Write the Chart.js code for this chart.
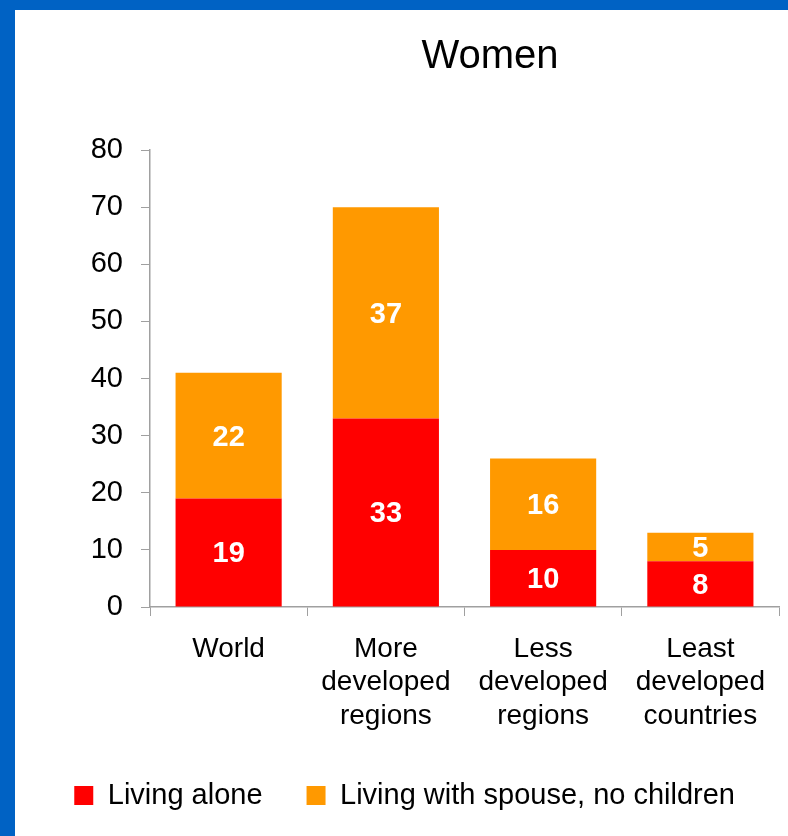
<!DOCTYPE html>
<html>
<head>
<meta charset="utf-8">
<script src="https://cdn.jsdelivr.net/npm/chart.js@4.4.1/dist/chart.umd.min.js"></script>
<style>
  html, body { margin: 0; padding: 0; }
  body { width: 788px; height: 836px; background: #0062c4; position: relative; overflow: hidden; }
  #panel { position: absolute; left: 15px; top: 10px; right: 0; bottom: 0; background: #ffffff; }
  #wrap { position: absolute; left: 0; top: 0; width: 788px; height: 836px; }
</style>
</head>
<body>
<div id="panel"></div>
<div id="wrap"><canvas id="graphCanvas"></canvas></div>
<script>
const categories = [["World"], ["More", "developed", "regions"], ["Less", "developed", "regions"], ["Least", "developed", "countries"]];
const livingAlone = [19, 33, 10, 8];
const withSpouse = [22, 37, 16, 5];
const y_ticks = [0, 10, 20, 30, 40, 50, 60, 70, 80];

const fontFamily = "'Liberation Sans', Arial, sans-serif";

// title drawn at its own spot, the slide centers it right of the axis
const titlePlugin = {
    id: "slideTitle",
    afterDraw(chart) {
        const c = chart.ctx;
        c.save();
        c.font = "40px " + fontFamily;
        c.fillStyle = "#000";
        c.textAlign = "center";
        c.textBaseline = "middle";
        c.fillText("Women", 490, 57);
        c.restore();
    }
};

// white numbers in the middle of each segment
const valueLabels = {
    id: "valueLabels",
    afterDatasetsDraw(chart) {
        const c = chart.ctx;
        c.save();
        c.font = "bold 29px " + fontFamily;
        c.fillStyle = "#fff";
        c.textAlign = "center";
        c.textBaseline = "middle";
        chart.data.datasets.forEach((ds, i) => {
            const meta = chart.getDatasetMeta(i);
            meta.data.forEach((bar, j) => {
                const yMid = (bar.y + bar.base) / 2;
                c.fillText(String(ds.data[j]), bar.x, yMid + 2);
            });
        });
        c.restore();
    }
};

const ctx = document.getElementById("graphCanvas").getContext("2d");

const chart = new Chart(ctx, {
    type: "bar",
    data: {
        labels: categories,
        datasets: [{
            label: "Living alone",
            data: livingAlone,
            backgroundColor: "#ff0000",
            barPercentage: 0.675,
            categoryPercentage: 1.0,
        }, {
            label: "Living with spouse, no children",
            data: withSpouse,
            backgroundColor: "#ff9900",
            barPercentage: 0.675,
            categoryPercentage: 1.0,
        }]
    },
    options: {
        responsive: true,
        maintainAspectRatio: false,
        animation: false,
        layout: {
            padding: { left: 10, right: 9, top: 150, bottom: 16 }
        },
        scales: {
            x: {
                stacked: true,
                grid: {
                    offset: true,
                    drawOnChartArea: false,
                    drawTicks: true,
                    tickLength: 9,
                    color: "#a0a0a0",
                },
                border: { display: true, color: "#a0a0a0", width: 1.5 },
                ticks: {
                    color: "#000",
                    padding: 16,
                    maxRotation: 0,
                    font: { family: fontFamily, size: 28, lineHeight: 1.2 },
                },
                afterFit: (scale) => { scale.height = 130; },
            },
            y: {
                stacked: true,
                min: 0,
                max: 80,
                afterBuildTicks: (scale) => { scale.ticks = y_ticks.map(v => ({ value: v })); },
                grid: {
                    drawOnChartArea: false,
                    drawTicks: true,
                    tickLength: 9,
                    color: "#a0a0a0",
                },
                border: { display: true, color: "#a0a0a0", width: 1.5 },
                ticks: {
                    color: "#000",
                    padding: 18,
                    font: { family: fontFamily, size: 29 },
                },
                afterFit: (scale) => { scale.width = 140; },
            },
        },
        plugins: {
            legend: {
                position: "bottom",
                align: "end",
                labels: {
                    color: "#000",
                    boxWidth: 19,
                    boxHeight: 19,
                    padding: 44,
                    font: { family: fontFamily, size: 29 },
                },
            },
            tooltip: { enabled: false },
        },
    },
    plugins: [titlePlugin, valueLabels],
});
</script>
</body>
</html>
